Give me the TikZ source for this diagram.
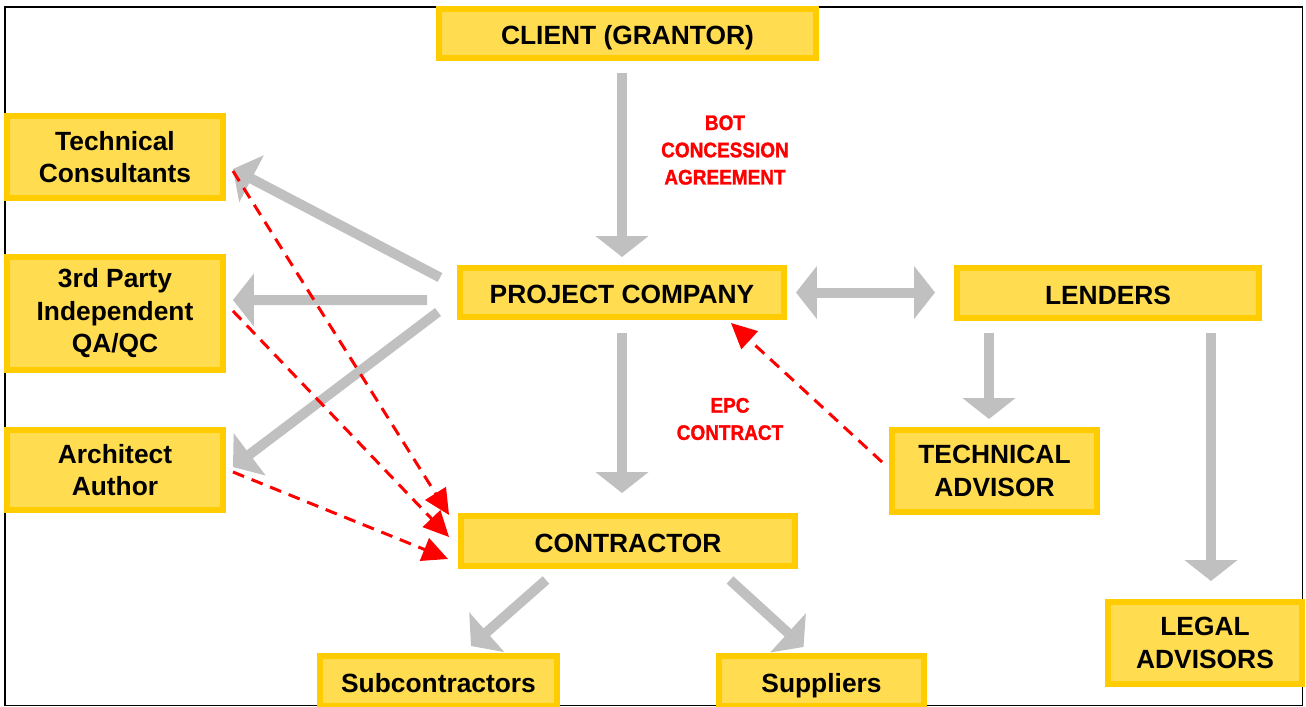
\documentclass[tikz,border=0pt]{standalone}
\usepackage{fontspec}
\setmainfont{Liberation Sans}
\newfontfamily\dealfont[FakeStretch=0.9, BoldFeatures={FakeBold=1.4}]{Liberation Sans}
\usepackage{xcolor}
\usetikzlibrary{shapes,arrows,positioning,calc,arrows.meta}
\definecolor{boxfill}{HTML}{FFDC50}
\definecolor{boxline}{HTML}{FFCC00}
\definecolor{arrowgray}{HTML}{C0C0C0}

\begin{document}
\begin{tikzpicture}[x=0.02cm, y=-0.02cm,
    party box/.style={draw=boxline, fill=boxfill, line width=3.4pt, rectangle, inner sep=0pt, align=center, font=\bfseries\fontsize{15}{18.5}\selectfont},
    one line/.style={text height=14pt, text depth=1pt},
    flow arrow/.style={draw=arrowgray, line width=0.2cm, -{Triangle[length=0.42cm, width=1.04cm]}},
    dash arrow/.style={draw=red, line width=1.7pt, dash pattern=on 0.24cm off 0.16cm, -{Triangle[length=0.51cm, width=0.48cm]}},
    deal label/.style={text=red, align=center, font=\dealfont\bfseries\fontsize{12}{15.5}\selectfont}]
    \useasboundingbox (0,0) rectangle (1306,707);
    \draw[line width=0.8pt] (5,7) rectangle (1302.5,705.5);

    \node[party box, one line, minimum width=7.54cm, minimum height=0.98cm] (client) at (627.5,33.5) {CLIENT (GRANTOR)};
    \node[party box, one line, minimum width=6.48cm, minimum height=0.98cm] (pc) at (622,292.5) {PROJECT COMPANY};
    \node[party box, one line, minimum width=6.04cm, minimum height=1cm] (lenders) at (1108,293) {LENDERS};
    \node[party box, minimum width=4.32cm, minimum height=1.64cm] (tc) at (115,157) {Technical\\Consultants};
    \node[party box, minimum width=4.32cm, minimum height=2.26cm] (qa) at (115,313.5) {3rd Party\\Independent\\QA/QC};
    \node[party box, minimum width=4.32cm, minimum height=1.6cm] (arch) at (115,470) {Architect\\Author};
    \node[party box, one line, minimum width=6.68cm, minimum height=1cm] (contractor) at (628,541) {CONTRACTOR};
    \node[party box, one line, minimum width=4.74cm, minimum height=1cm] (sub) at (438.5,681) {Subcontractors};
    \node[party box, one line, minimum width=4.1cm, minimum height=1cm] (sup) at (821.5,681) {Suppliers};
    \node[party box, minimum width=4.1cm, minimum height=1.64cm] (techadv) at (994.5,471) {TECHNICAL\\ADVISOR};
    \node[party box, minimum width=3.88cm, minimum height=1.64cm] (legal) at (1205,643) {LEGAL\\ADVISORS};

    \node[deal label] (bot) at (725,150) {BOT\\CONCESSION\\AGREEMENT};
    \node[deal label] (epc) at (730,419) {EPC\\CONTRACT};

    \draw[flow arrow, shorten <=0.24cm, shorten >=0.16cm] (client.south -| pc.north) -- (pc.north);
    \draw[flow arrow, shorten <=0.26cm, shorten >=0.4cm] (pc.south) -- (pc.south |- contractor.north);
    \draw[flow arrow, {Triangle[length=0.42cm, width=1.04cm]}-{Triangle[length=0.42cm, width=1.04cm]}, shorten <=0.18cm, shorten >=0.38cm] (pc.east) -- (pc.east -| lenders.west);
    \draw[flow arrow, shorten <=0.24cm, shorten >=0.16cm] ([xshift=-0.11cm]techadv.north |- lenders.south) -- ([xshift=-0.11cm]techadv.north);
    \draw[flow arrow, shorten <=0.24cm, shorten >=0.36cm] ([xshift=0.12cm]legal.north |- lenders.south) -- ([xshift=0.12cm]legal.north);
    \draw[flow arrow] ([shift={(-17,-15)}]pc.west) -- ([shift={(7,12)}]tc.east);
    \draw[flow arrow] ([shift={(-30,7.5)}]pc.west) -- ([shift={(7,-13.5)}]qa.east);
    \draw[flow arrow] ([shift={(-19,19.5)}]pc.west) -- ([shift={(7,-3)}]arch.east);
    \draw[flow arrow] ([shift={(-82,11)}]contractor.south) -- ([shift={(32.5,-7)}]sub.north);
    \draw[flow arrow] ([shift={(102,11)}]contractor.south) -- ([shift={(-18,-6)}]sup.north);

    \draw[dash arrow] ([shift={(7,14)}]tc.east) -- ([shift={(-9,-26)}]contractor.west);
    \draw[dash arrow] ([shift={(7,-2.5)}]qa.east) -- ([shift={(-9,-4)}]contractor.west);
    \draw[dash arrow] ([shift={(7,2)}]arch.east) -- ([shift={(-10,18)}]contractor.west);
    \draw[dash arrow] ([shift={(-7,-9)}]techadv.west) -- ([shift={(-56,3)}]pc.south east);
\end{tikzpicture}
\end{document}
